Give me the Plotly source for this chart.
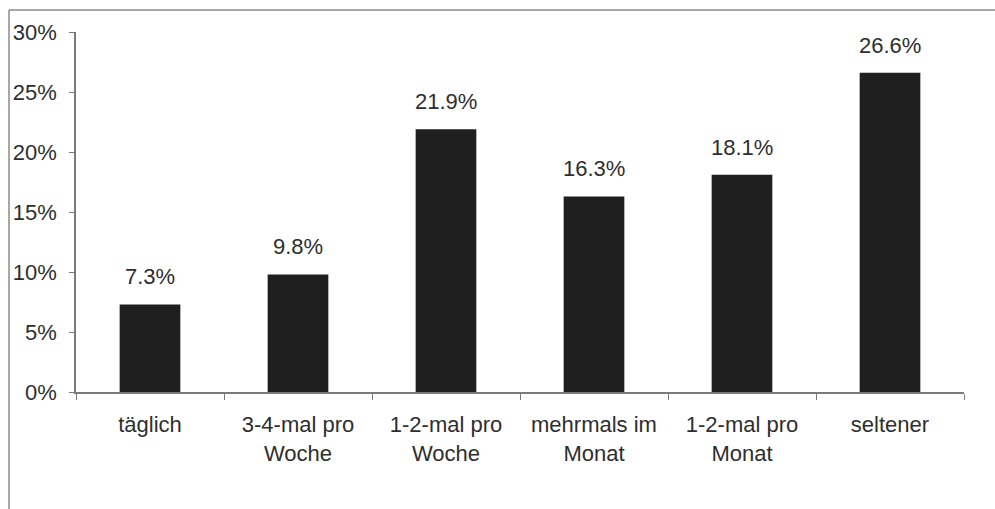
import plotly.graph_objects as go

# Häufigkeit – Anteil der Befragten
categories = ["täglich", "3-4-mal pro<br>Woche", "1-2-mal pro<br>Woche",
              "mehrmals im<br>Monat", "1-2-mal pro<br>Monat", "seltener"]
values = [7.3, 9.8, 21.9, 16.3, 18.1, 26.6]
y_ticks = [0, 5, 10, 15, 20, 25, 30]
y_tick_labels = [f"{t}%" for t in y_ticks]

W, H = 995, 509
ML, MR, MT, MB = 76, 31, 32, 117
FONT = "Liberation Sans, Arial, sans-serif"
TEXT = "#2e2e2e"
AXIS = "#7a7a7a"

fig = go.Figure(go.Bar(
    x=categories, y=values,
    marker=dict(color="#1f1f1f", line=dict(width=0)),
    width=0.41,
    hoverinfo="skip",
))

for c, v in zip(categories, values):
    fig.add_annotation(x=c, y=v, text=f"{v:.1f}%", showarrow=False,
                       yanchor="bottom", yshift=13,
                       font=dict(family=FONT, size=22, color=TEXT))

# outer frame lines (top and left) in pixel-derived paper coordinates
pw, ph = W - ML - MR, H - MT - MB
def px_x(p):
    return (p - ML) / pw
def px_y(p):
    return (H - MB - p) / ph
line = dict(color="#8a8a8a", width=1.5)
fig.add_shape(type="line", xref="paper", yref="paper",
              x0=px_x(9), y0=px_y(10), x1=px_x(995), y1=px_y(10), line=line)
fig.add_shape(type="line", xref="paper", yref="paper",
              x0=px_x(9), y0=px_y(10), x1=px_x(9), y1=px_y(509), line=line)

fig.update_layout(
    width=W, height=H,
    margin=dict(l=ML, r=MR, t=MT, b=MB),
    paper_bgcolor="white", plot_bgcolor="white",
    showlegend=False,
    font=dict(family=FONT, size=22, color=TEXT),
)
fig.update_xaxes(
    showline=True, linecolor=AXIS, linewidth=1.5,
    showgrid=False, ticks="outside", tickson="boundaries",
    ticklen=6, tickcolor=AXIS, tickwidth=1.2,
    ticklabelstandoff=12,
    tickfont=dict(size=22), fixedrange=True,
)
fig.update_yaxes(
    range=[0, 30], tickvals=y_ticks, ticktext=y_tick_labels,
    showline=True, linecolor=AXIS, linewidth=1.5,
    showgrid=False, zeroline=False,
    ticks="outside", ticklen=5, tickcolor=AXIS, tickwidth=1.2,
    ticklabelstandoff=8,
    tickfont=dict(size=22), fixedrange=True,
)

fig.write_html("out.html")
